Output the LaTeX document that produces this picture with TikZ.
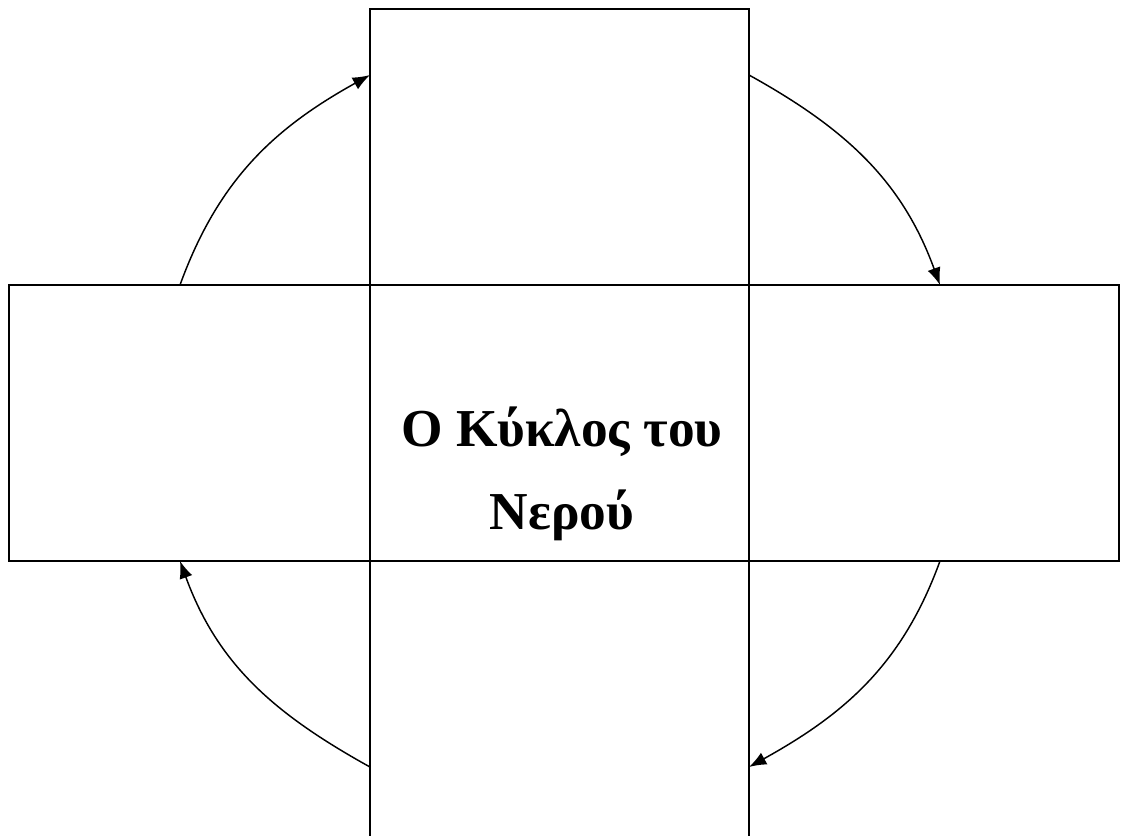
\documentclass[tikz,border=0pt]{standalone}
\usepackage{fontspec}
\setmainfont{Liberation Serif}
\usetikzlibrary{arrows.meta,positioning}

\begin{document}
\begin{tikzpicture}[x=0.75pt,y=-0.75pt,>={Latex[length=13pt,width=10pt]}]
\tikzset{
  cell/.style={draw, line width=1.5pt, inner sep=0pt, outer sep=0pt},
  flow/.style={->, line width=1.1pt}
}
\useasboundingbox (0,0) rectangle (1122,836);

% the five boxes of the cross
\node[cell, minimum width=284.25pt, minimum height=207pt] (ctr) at (559.5,423) {};
\node[cell, minimum width=284.25pt, minimum height=207pt, above=0pt of ctr] (top) {};
\node[cell, minimum width=270.75pt, minimum height=207pt, left=0pt of ctr] (lft) {};
\node[cell, minimum width=277.5pt, minimum height=207pt, right=0pt of ctr] (rgt) {};
\node[cell, minimum width=284.25pt, minimum height=210pt, below=0pt of ctr] (bot) {};

\node[font=\bfseries\fontsize{40}{62.25}\selectfont, align=center] (title) at (562,473.5) {Ο Κύκλος του\\Νερού};

% ends of the arrows
\coordinate (a1) at (180,285);
\coordinate (a2) at (370,75);
\coordinate (b1) at (749,75);
\coordinate (b2) at (940,285);
\coordinate (c1) at (940,561);
\coordinate (c2) at (749,767);
\coordinate (d1) at (370,767);
\coordinate (d2) at (180,561);

\draw[flow] (a1) to[out=70,in=209] (a2);
\draw[flow] (b1) to[out=-29,in=110] (b2);
\draw[flow] (c1) to[out=250,in=29] (c2);
\draw[flow] (d1) to[out=151,in=-70] (d2);
\end{tikzpicture}
\end{document}
